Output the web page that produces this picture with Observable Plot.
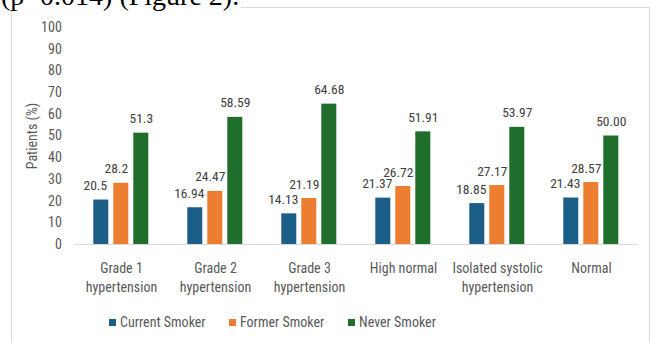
<!DOCTYPE html>
<html>
<head>
<meta charset="utf-8">
<script src="https://cdn.jsdelivr.net/npm/d3@7"></script>
<script src="https://cdn.jsdelivr.net/npm/@observablehq/plot@0.6"></script>
<style>
  html, body { margin: 0; padding: 0; background: #fff; width: 653px; height: 343px; overflow: hidden; }
  #page { position: relative; width: 653px; height: 343px; }
  #frame { position: absolute; left: 11px; top: 7px; width: 639px; height: 360px; border: 1px solid #d9d9d9; box-sizing: border-box; }
  #caption { position: absolute; left: 1px; top: -18.5px; font: 28px "Liberation Serif", "Times New Roman", serif; line-height: 28px; color: #000; background: #fff; padding-right: 2px; white-space: nowrap; }
  #chart { position: absolute; left: 0; top: 0; }
  #legend { position: absolute; left: 0; top: 312px; width: 653px; height: 22px; font: 14px "Liberation Sans Narrow", "Roboto Condensed", Roboto, sans-serif; color: #595959; }
  .item { position: absolute; top: 2px; display: flex; align-items: center; gap: 4px; white-space: nowrap; }
  .sw { width: 7px; height: 7px; display: inline-block; }
</style>
</head>
<body>
<div id="page">
  <div id="frame"></div>
  <div id="chart"></div>
  <div id="legend"></div>
  <div id="caption">(p=0.014) (Figure 2).</div>
</div>
<script>
const categories = ["Grade 1 hypertension", "Grade 2 hypertension", "Grade 3 hypertension", "High normal", "Isolated systolic hypertension", "Normal"];
const series = ["Current Smoker", "Former Smoker", "Never Smoker"];
const currentSmoker = [20.5, 16.94, 14.13, 21.37, 18.85, 21.43];
const formerSmoker = [28.2, 24.47, 21.19, 26.72, 27.17, 28.57];
const neverSmoker = [51.3, 58.59, 64.68, 51.91, 53.97, 50.00];
const labelDecimals = [1, 2, 2, 2, 2, 2];
const yTicks = [0, 10, 20, 30, 40, 50, 60, 70, 80, 90, 100];
const colors = ["#1b5f88", "#ed7d31", "#1f6e2b"];

const values = [currentSmoker, formerSmoker, neverSmoker];
const rows = categories.flatMap((c, i) => series.map((s, j) => ({
  category: c, series: s, value: values[j][i], label: values[j][i].toFixed(labelDecimals[i])
})));

const font = '"Liberation Sans Narrow", "Roboto Condensed", Roboto, sans-serif';
const splitLabel = d => d.replace(" hypertension", "\nhypertension");
const labelDx = [-6, -5, 0];

const chart = Plot.plot({
  width: 653,
  height: 312,
  marginTop: 27,
  marginBottom: 68,
  marginLeft: 72.7,
  marginRight: 12.7,
  style: { fontFamily: font, background: "transparent", overflow: "visible" },
  fx: { domain: categories, padding: 0, axis: null, label: null },
  x: { domain: series, paddingInner: 0.238, paddingOuter: 0.871, axis: null },
  y: { domain: [0, 100], axis: null },
  color: { domain: series, range: colors },
  marks: [
    Plot.ruleY([0], { stroke: "#d9d9d9", strokeWidth: 1 }),
    Plot.barY(rows, { fx: "category", x: "series", y: "value", fill: "series" }),
    ...series.map((s, j) => Plot.text(rows.filter(r => r.series === s), {
      fx: "category", x: "series", y: "value", text: "label",
      dy: -10, dx: labelDx[j], lineAnchor: "bottom", fontSize: 13.5, fill: "#404040"
    })),
    Plot.text(categories, {
      fx: d => d, text: splitLabel, frameAnchor: "bottom", lineAnchor: "top",
      dy: 15, fontSize: 14, lineHeight: 1.36, fill: "#595959"
    }),
    Plot.axisY({
      ticks: yTicks, tickSize: 0, tickPadding: 12.7, fontSize: 14, color: "#595959",
      label: "Patients (%)", labelAnchor: "center", labelArrow: "none", labelOffset: 47
    })
  ]
});
document.getElementById("chart").appendChild(chart);

const legend = document.getElementById("legend");
const legendLeft = [109, 229, 348];
series.forEach((s, j) => {
  const item = document.createElement("div");
  item.className = "item";
  item.style.left = legendLeft[j] + "px";
  const sw = document.createElement("span");
  sw.className = "sw";
  sw.style.background = colors[j];
  const t = document.createElement("span");
  t.textContent = s;
  item.appendChild(sw);
  item.appendChild(t);
  legend.appendChild(item);
});
</script>
</body>
</html>
